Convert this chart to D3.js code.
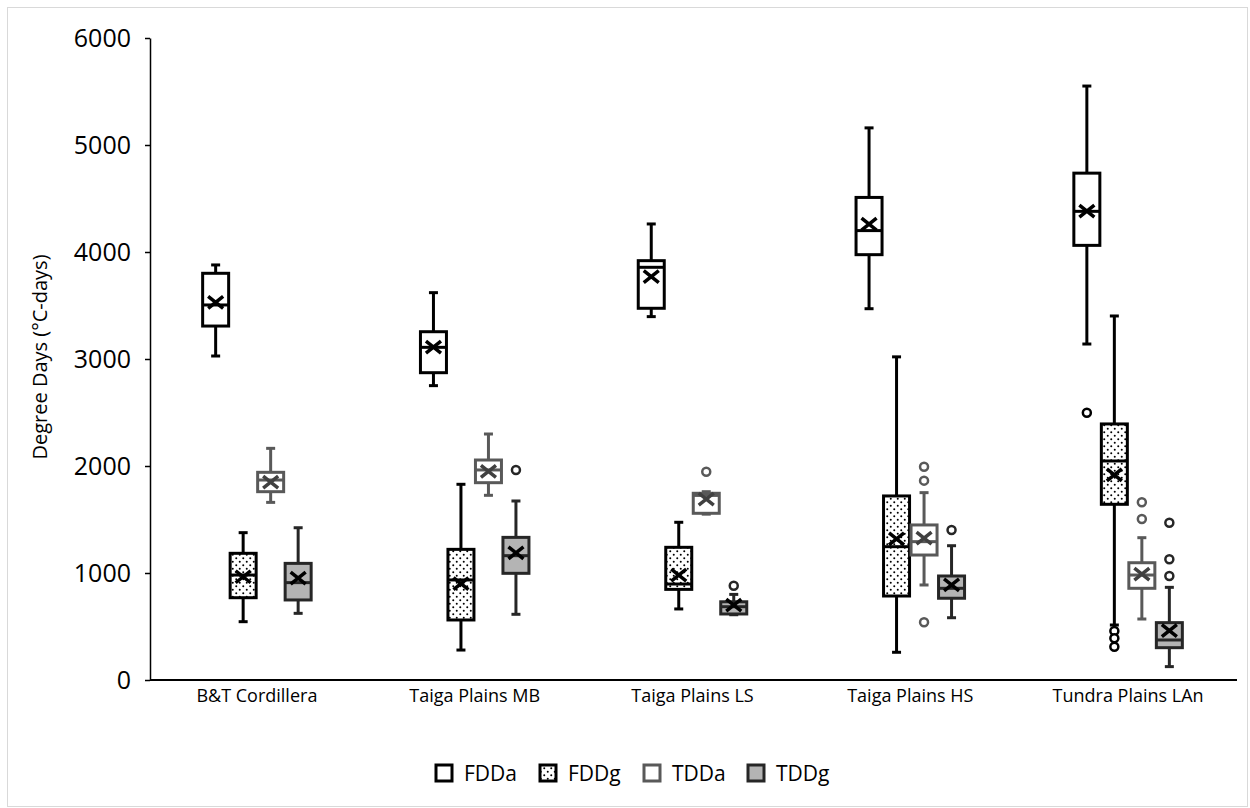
<!DOCTYPE html>
<html>
<head>
<meta charset="utf-8">
<script src="https://cdn.jsdelivr.net/npm/d3@7"></script>
<style>
  html, body { margin: 0; padding: 0; background: #fff; }
  text { font-family: "Open Sans", "Noto Sans", sans-serif; fill: #000; }
</style>
</head>
<body>
<svg id="chart" width="1250" height="808"></svg>
<script>
// ---- data ----
const categories = ["B&T Cordillera", "Taiga Plains MB", "Taiga Plains LS", "Taiga Plains HS", "Tundra Plains LAn"];
const seriesNames = ["FDDa", "FDDg", "TDDa", "TDDg"];
const yTicks = [0, 1000, 2000, 3000, 4000, 5000, 6000];

const fddaMin    = [3028, 2751, 3396, 3470, 3140];
const fddaQ1     = [3308, 2872, 3474, 3975, 4062];
const fddaMedian = [3505, 3109, 3857, 4200, 4380];
const fddaQ3     = [3801, 3255, 3919, 4510, 4737];
const fddaMax    = [3879, 3620, 4262, 5160, 5551];
const fddaMean   = [3530, 3110, 3769, 4260, 4383];
const fddaOut    = [[], [], [], [], [2498]];

const fddgMin    = [545, 280, 664, 259, 514];
const fddgQ1     = [769, 561, 847, 785, 1642];
const fddgMedian = [981, 935, 897, 1246, 2047];
const fddgQ3     = [1184, 1221, 1240, 1720, 2393];
const fddgMax    = [1377, 1829, 1474, 3020, 3402];
const fddgMean   = [965, 900, 981, 1318, 1916];
const fddgOut    = [[], [], [], [], [458, 390, 311]];

const tddaMin    = [1660, 1726, 1550, 888, 570];
const tddaQ1     = [1760, 1844, 1558, 1168, 857];
const tddaMedian = [1869, 1963, 1725, 1293, 981];
const tddaQ3     = [1941, 2056, 1745, 1449, 1096];
const tddaMax    = [2165, 2299, 1760, 1751, 1330];
const tddaMean   = [1850, 1950, 1690, 1327, 990];
const tddaOut    = [[], [], [1947], [1993, 1863, 539], [1661, 1505]];

const tddgMin    = [623, 614, 610, 582, 125];
const tddgQ1     = [748, 997, 617, 764, 302];
const tddgMedian = [910, 1162, 685, 857, 374];
const tddgQ3     = [1090, 1333, 731, 972, 536];
const tddgMax    = [1423, 1673, 800, 1255, 866];
const tddgMean   = [953, 1187, 700, 888, 461];
const tddgOut    = [[], [1963], [881], [1402], [1470, 1128, 972]];

// ---- build table ----
const raw = {
  FDDa: [fddaMin, fddaQ1, fddaMedian, fddaQ3, fddaMax, fddaMean, fddaOut],
  FDDg: [fddgMin, fddgQ1, fddgMedian, fddgQ3, fddgMax, fddgMean, fddgOut],
  TDDa: [tddaMin, tddaQ1, tddaMedian, tddaQ3, tddaMax, tddaMean, tddaOut],
  TDDg: [tddgMin, tddgQ1, tddgMedian, tddgQ3, tddgMax, tddgMean, tddgOut]
};
const boxes = [];
seriesNames.forEach(s => {
  const r = raw[s];
  categories.forEach((c, i) => {
    boxes.push({ series: s, cat: c, min: r[0][i], q1: r[1][i], med: r[2][i], q3: r[3][i], max: r[4][i], mean: r[5][i], out: r[6][i] });
  });
});

const styles = {
  FDDa: { stroke: "#000000", fill: "#ffffff", mean: "#000000" },
  FDDg: { stroke: "#000000", fill: "url(#dots)", mean: "#000000" },
  TDDa: { stroke: "#595959", fill: "#ffffff", mean: "#404040" },
  TDDg: { stroke: "#262626", fill: "#b4b4b4", mean: "#000000" }
};

const svg = d3.select("#chart");

// border
svg.append("rect").attr("x", 7.5).attr("y", 7.5).attr("width", 1240).attr("height", 799)
  .attr("fill", "#fff").attr("stroke", "#d9d9d9").attr("stroke-width", 1);

// pattern
const defs = svg.append("defs");
const pat = defs.append("pattern").attr("id", "dots").attr("patternUnits", "userSpaceOnUse")
  .attr("width", 7).attr("height", 7);
pat.append("rect").attr("width", 7).attr("height", 7).attr("fill", "#fff");
pat.append("circle").attr("cx", 1.75).attr("cy", 1.75).attr("r", 1).attr("fill", "#000");
pat.append("circle").attr("cx", 5.25).attr("cy", 5.25).attr("r", 1).attr("fill", "#000");

// scales
const x = d3.scaleBand().domain(categories).range([148, 1237]);
const xs = d3.scaleBand().domain(seriesNames).range([-55, 55]);
const y = d3.scaleLinear().domain([0, 6000]).range([680, 38]);
const boxW = 26, capW = 9;

// y axis
const yAxis = svg.append("g").attr("transform", "translate(150,0)")
  .call(d3.axisLeft(y).tickValues(yTicks).tickFormat(d3.format("d")).tickSize(5).tickSizeOuter(0).tickPadding(14));
yAxis.selectAll("path.domain").attr("stroke", "#000").attr("stroke-width", 1.5);
yAxis.selectAll(".tick line").attr("stroke", "#000").attr("stroke-width", 1.5);
yAxis.selectAll(".tick text").attr("font-size", 25).attr("fill", "#000");

// x axis
const xAxis = svg.append("g").attr("transform", "translate(0,680)")
  .call(d3.axisBottom(x).tickSize(0).tickPadding(9));
xAxis.select("path.domain").attr("d", "M150,0H1237").attr("stroke", "#000").attr("stroke-width", 2);
xAxis.selectAll(".tick text").attr("font-size", 18).attr("fill", "#000");

// y label
svg.append("text").attr("transform", "translate(47,357) rotate(-90)")
  .attr("text-anchor", "middle").attr("font-size", 20).text("Degree Days (°C-days)");

// boxes
const g = svg.append("g");
const bx = d => x(d.cat) + x.bandwidth() / 2 + xs(d.series) + xs.bandwidth() / 2;

const bg = g.selectAll("g.box").data(boxes).join("g").attr("class", "box");
bg.each(function(d) {
  const st = styles[d.series];
  const sel = d3.select(this);
  const cx = bx(d);
  const sw = 3;
  // whiskers
  sel.append("line").attr("x1", cx).attr("x2", cx).attr("y1", y(d.q3)).attr("y2", y(d.max))
    .attr("stroke", st.stroke).attr("stroke-width", sw);
  sel.append("line").attr("x1", cx).attr("x2", cx).attr("y1", y(d.q1)).attr("y2", y(d.min))
    .attr("stroke", st.stroke).attr("stroke-width", sw);
  sel.append("line").attr("x1", cx - capW / 2).attr("x2", cx + capW / 2).attr("y1", y(d.max)).attr("y2", y(d.max))
    .attr("stroke", st.stroke).attr("stroke-width", sw);
  sel.append("line").attr("x1", cx - capW / 2).attr("x2", cx + capW / 2).attr("y1", y(d.min)).attr("y2", y(d.min))
    .attr("stroke", st.stroke).attr("stroke-width", sw);
  // box
  sel.append("rect").attr("x", cx - boxW / 2).attr("width", boxW)
    .attr("y", y(d.q3)).attr("height", y(d.q1) - y(d.q3))
    .attr("fill", st.fill).attr("stroke", st.stroke).attr("stroke-width", sw);
  // median
  sel.append("line").attr("x1", cx - boxW / 2).attr("x2", cx + boxW / 2).attr("y1", y(d.med)).attr("y2", y(d.med))
    .attr("stroke", st.stroke).attr("stroke-width", sw);
  // mean X
  const m = 7.5, my = y(d.mean);
  sel.append("path").attr("d", `M${cx - m},${my - m * 0.8}L${cx + m},${my + m * 0.8}M${cx - m},${my + m * 0.8}L${cx + m},${my - m * 0.8}`)
    .attr("stroke", st.mean).attr("stroke-width", 3.5).attr("fill", "none");
  // outliers
  sel.selectAll("circle.out").data(d.out).join("circle").attr("class", "out")
    .attr("cx", cx).attr("cy", v => y(v)).attr("r", 4)
    .attr("fill", "#fff").attr("stroke", st.stroke).attr("stroke-width", 2.5);
});

// legend
const legendX = [436, 540, 644, 748];
const lg = svg.append("g");
seriesNames.forEach((s, i) => {
  const st = styles[s];
  lg.append("rect").attr("x", legendX[i]).attr("y", 765).attr("width", 16).attr("height", 16)
    .attr("fill", st.fill).attr("stroke", st.stroke).attr("stroke-width", 3);
  lg.append("text").attr("x", legendX[i] + 28).attr("y", 781).attr("font-size", 21).text(s);
});
</script>
</body>
</html>
